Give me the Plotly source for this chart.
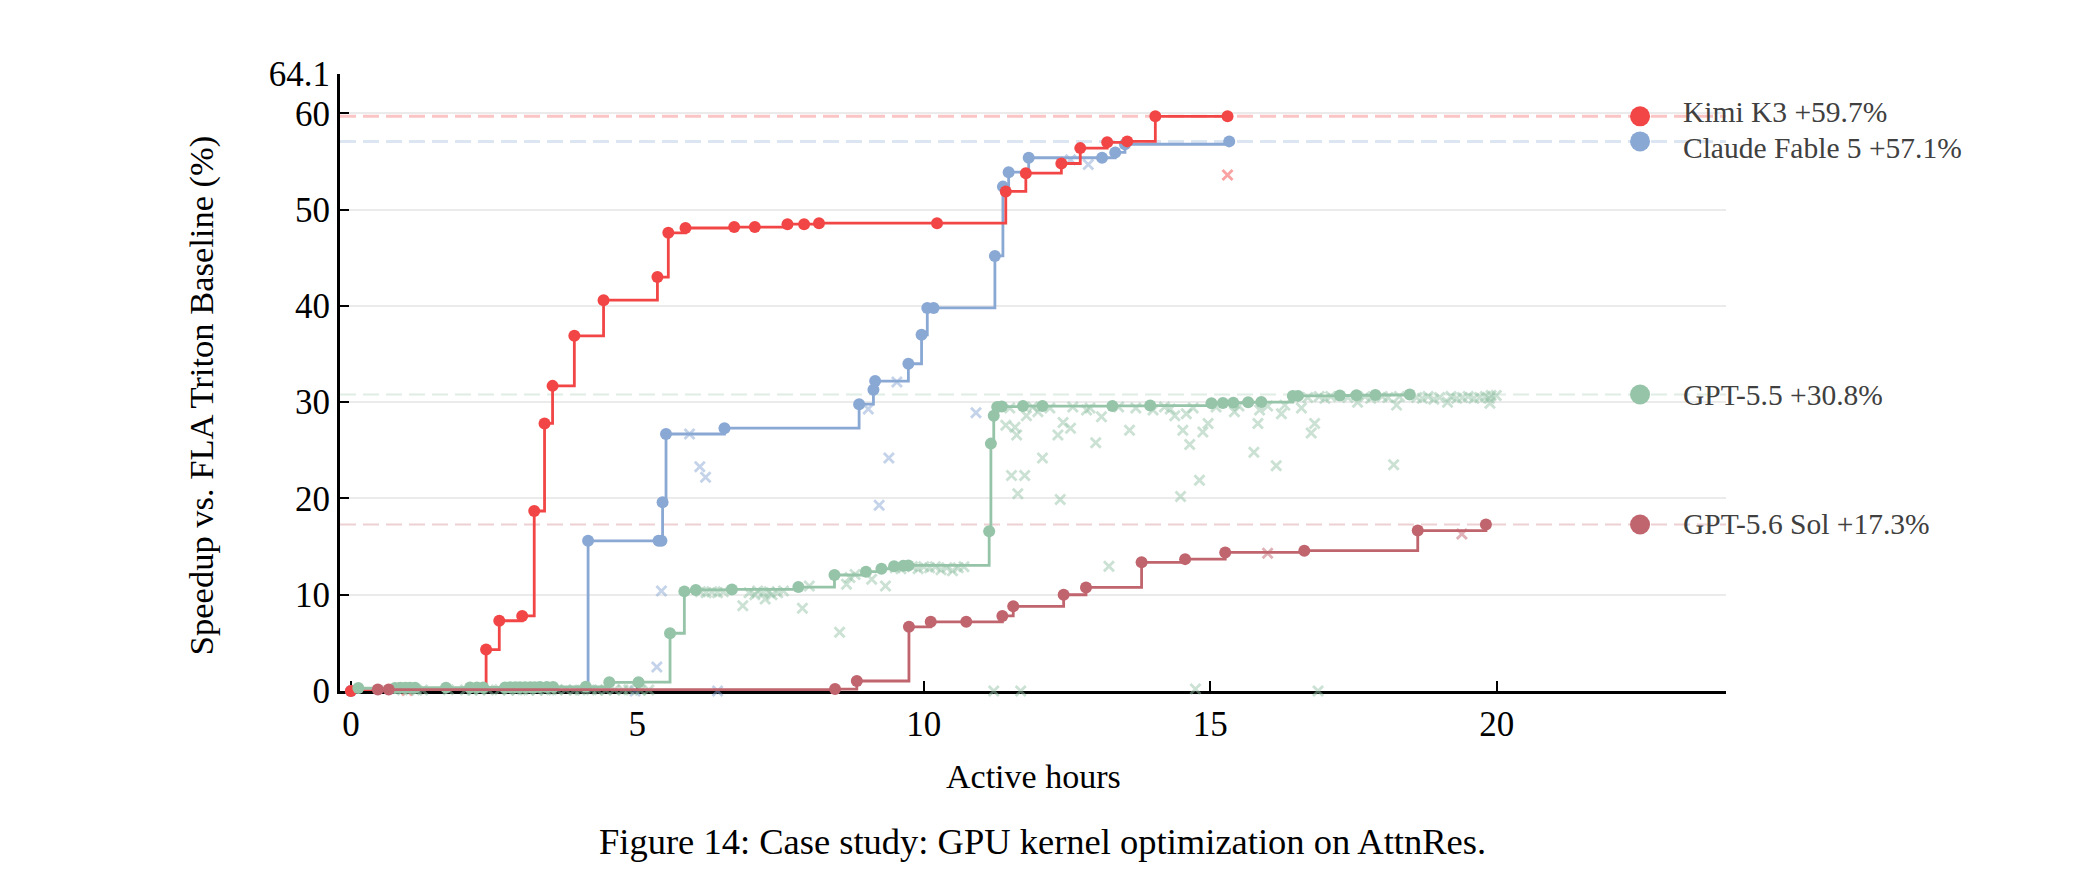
import plotly.graph_objects as go

# ---------------- data ----------------
models = ["Kimi K3", "Claude Fable 5", "GPT-5.5", "GPT-5.6 Sol"]
colors = ["#f24646", "#8aa8d4", "#96c4a8", "#c0646e"]
dash_colors = ["rgba(244,90,90,0.35)", "rgba(138,168,212,0.30)", "rgba(150,196,168,0.30)", "rgba(192,100,110,0.30)"]
final_values = [59.7, 57.1, 30.8, 17.3]

kimi_x = [0, 2.36, 2.59, 2.99, 3.20, 3.38, 3.52, 3.90, 4.41, 5.35, 5.54, 5.84, 6.69, 7.05, 7.62, 7.91, 8.17,
          10.23, 11.43, 11.78, 12.40, 12.73, 13.20, 13.55, 14.04, 15.30]
kimi_y = [0, 4.3, 7.3, 7.8, 18.7, 27.8, 31.7, 36.9, 40.6, 43.0, 47.6, 48.1, 48.2, 48.2, 48.5, 48.5, 48.6,
          48.6, 51.9, 53.8, 54.8, 56.4, 57.0, 57.1, 59.7, 59.7]
kimi_fail_x = [0.98, 15.30]
kimi_fail_y = [0.05, 53.6]

claude_x = [0, 4.14, 5.37, 5.42, 5.44, 5.50, 6.52, 8.87, 9.12, 9.15, 9.73, 9.96, 10.06, 10.17, 11.24, 11.38,
            11.48, 11.83, 13.11, 13.34, 13.51, 15.33]
claude_y = [0, 15.6, 15.6, 15.6, 19.6, 26.7, 27.3, 29.8, 31.3, 32.2, 34.0, 37.0, 39.8, 39.8, 45.2, 52.4,
            53.9, 55.4, 55.4, 55.95, 56.8, 57.1]
claude_fail_x = [4.96, 5.34, 5.42, 5.91, 6.09, 6.19, 6.40, 9.03, 9.22, 9.39, 9.53, 10.91, 12.56, 12.87]
claude_fail_y = [0.0, 2.5, 10.4, 26.7, 23.3, 22.2, 0.0, 29.3, 19.3, 24.2, 32.1, 28.9, 55.2, 54.7]

gpt55_x = [0.13, 0.77, 0.86, 0.95, 1.03, 1.12, 1.66, 2.08, 2.20, 2.31, 2.69, 2.78, 2.87, 2.95, 3.04, 3.13,
           3.21, 3.30, 3.42, 3.53, 4.10, 4.51, 5.02, 5.57, 5.82, 6.02, 6.65, 7.81, 8.44, 8.99, 9.26, 9.48,
           9.64, 9.73, 11.14, 11.17, 11.22, 11.28, 11.36, 11.73, 12.07, 13.29, 13.95, 15.02, 15.22, 15.40,
           15.66, 15.89, 16.44, 16.53, 17.26, 17.55, 17.88, 18.48]
gpt55_y = [0.30, 0.32, 0.33, 0.33, 0.34, 0.34, 0.35, 0.36, 0.36, 0.37, 0.37, 0.38, 0.38, 0.39, 0.39, 0.40,
           0.40, 0.41, 0.41, 0.42, 0.43, 0.90, 0.92, 6.0, 10.35, 10.5, 10.55, 10.8, 12.05, 12.4, 12.7, 12.95,
           13.0, 13.05, 16.6, 25.7, 28.6, 29.5, 29.55, 29.6, 29.6, 29.62, 29.65, 29.9, 29.92, 29.95,
           30.0, 30.02, 30.65, 30.66, 30.7, 30.72, 30.75, 30.8]
gpt55_fail_x = [0.90, 1.00, 1.15, 1.25, 1.70, 2.00, 2.12, 2.25, 2.40, 2.60, 2.75, 2.90, 3.00, 3.10, 3.25,
                3.40, 3.50, 3.60, 3.75, 3.90, 4.00, 4.20, 4.30, 4.45, 4.60, 4.75, 4.85, 5.05, 5.20,
                6.10, 6.20, 6.30, 6.40, 6.50, 6.95, 7.05, 7.10, 7.20, 7.30, 7.35, 7.45, 7.55, 6.84, 7.23,
                7.88, 8.00, 8.53, 8.65, 8.71, 8.80, 9.09, 9.33, 9.50, 9.60, 9.80, 9.90, 10.00, 10.10, 10.20,
                10.30, 10.40, 10.50, 10.60, 10.70,
                11.43, 11.53, 11.76, 11.64, 12.07, 12.38, 11.62, 12.34, 12.56, 13.00, 13.59, 11.79, 12.43,
                12.84, 13.10, 11.99, 11.59, 14.00, 14.38, 14.52, 14.64, 14.58, 14.87, 14.96, 14.81, 14.48,
                15.42, 15.76, 15.83, 15.86, 16.15, 16.24, 16.59, 16.82, 16.76, 13.23, 11.22, 11.69, 14.74,
                16.88, 18.20, 18.25, 17.57, 19.14, 19.87, 19.99, 19.88,
                11.50, 11.90, 12.20, 12.60, 12.90, 13.40, 13.70, 14.20, 14.30, 14.70, 15.10, 15.50, 16.00,
                16.30, 16.70, 16.90, 17.00, 17.10, 17.40, 17.70, 17.80, 18.00, 18.10, 18.30, 18.60, 18.70,
                18.80, 18.90, 19.00, 19.20, 19.30, 19.40, 19.50, 19.60, 19.70, 19.80, 19.90]
gpt55_fail_y = [0.10, 0.12, 0.08, 0.10, 0.12, 0.10, 0.08, 0.12, 0.10, 0.12, 0.08, 0.10, 0.12, 0.10, 0.08,
                0.10, 0.12, 0.10, 0.12, 0.08, 0.10, 0.12, 0.10, 0.08, 0.12, 0.10, 0.12, 0.08, 0.10,
                10.3, 10.2, 10.3, 10.2, 10.3, 10.2, 10.0, 10.4, 10.2, 10.3, 10.0, 10.2, 10.4, 8.85, 9.55,
                8.6, 10.9, 6.1, 11.1, 11.8, 12.1, 11.6, 10.9, 12.8, 12.7, 12.9, 12.7, 12.9, 12.8, 12.9,
                12.6, 12.8, 12.5, 12.8, 12.9,
                27.6, 22.4, 22.4, 20.5, 24.2, 19.9, 26.6, 26.6, 27.3, 25.8, 27.1, 28.6, 27.9,
                29.2, 28.5, 29.0, 27.4, 29.2, 28.6, 27.1, 25.6, 28.8, 26.9, 27.8, 21.9, 20.2,
                29.0, 24.8, 27.8, 29.2, 23.4, 28.8, 29.4, 27.8, 26.8, 12.95, 0.0, 0.0, 0.2,
                0.0, 23.5, 29.7, 30.0, 30.0, 30.4, 30.7, 29.9,
                29.4, 29.5, 29.4, 29.5, 29.4, 29.5, 29.4, 29.5, 29.3, 29.4, 29.5, 29.6, 29.6,
                29.7, 30.5, 30.6, 30.4, 30.6, 30.5, 30.6, 30.4, 30.6, 30.5, 30.6, 30.5, 30.4,
                30.6, 30.3, 30.5, 30.6, 30.4, 30.5, 30.6, 30.4, 30.5, 30.6, 30.7]

sol_x = [0.47, 0.66, 8.45, 8.83, 9.74, 10.12, 10.74, 11.37, 11.56, 12.44, 12.83, 13.80, 14.56, 15.26, 16.64,
         18.62, 19.81]
sol_y = [0.15, 0.15, 0.2, 1.04, 6.67, 7.19, 7.19, 7.8, 8.8, 10.0, 10.76, 13.37, 13.7, 14.4, 14.58, 16.67, 17.3]
sol_fail_x = [16.0, 19.39]
sol_fail_y = [14.3, 16.3]

label_texts = ["Kimi K3 +59.7%", "Claude Fable 5 +57.1%", "GPT-5.5 +30.8%", "GPT-5.6 Sol +17.3%"]
label_text_y = [60.2, 56.45, 30.8, 17.3]

y_ticks = [0, 10, 20, 30, 40, 50, 60, 64.1]
y_ticktext = ["0", "10", "20", "30", "40", "50", "60", "64.1"]
x_ticks = [0, 5, 10, 15, 20]

# ---------------- figure ----------------
FONT = "Liberation Serif"
fig = go.Figure()

series = {
    "Kimi K3": (kimi_x, kimi_y, kimi_fail_x, kimi_fail_y),
    "Claude Fable 5": (claude_x, claude_y, claude_fail_x, claude_fail_y),
    "GPT-5.5": (gpt55_x, gpt55_y, gpt55_fail_x, gpt55_fail_y),
    "GPT-5.6 Sol": (sol_x, sol_y, sol_fail_x, sol_fail_y),
}

def rgba(hexc, a):
    h = hexc.lstrip("#")
    r, g, b = int(h[0:2], 16), int(h[2:4], 16), int(h[4:6], 16)
    return f"rgba({r},{g},{b},{a})"

X_MIN, X_MAX = -0.19, 24.0

# dashed final-value lines
for i, m in enumerate(models):
    fig.add_trace(go.Scatter(
        x=[X_MIN, X_MAX], y=[final_values[i], final_values[i]], mode="lines",
        line=dict(color=dash_colors[i], width=3 if i < 2 else 2, dash="16px,7px"),
        hoverinfo="skip", showlegend=False))

# failed attempts (x markers)
for i, m in enumerate(models):
    _, _, fx, fy = series[m]
    fig.add_trace(go.Scatter(
        x=fx, y=fy, mode="markers", cliponaxis=False,
        marker=dict(symbol="x-thin", size=10, line=dict(color=rgba(colors[i], 0.5), width=2.8)),
        showlegend=False, hoverinfo="skip"))

# step lines with improvement dots
for i in [1, 0, 2, 3]:
    m = models[i]
    sx, sy, _, _ = series[m]
    fig.add_trace(go.Scatter(
        x=sx, y=sy, mode="lines+markers", line_shape="hv", cliponaxis=False,
        line=dict(color=colors[i], width=2.8),
        marker=dict(size=12, color=colors[i]),
        showlegend=False, hoverinfo="skip"))

# end labels
for i, m in enumerate(models):
    fig.add_trace(go.Scatter(
        x=[22.5], y=[final_values[i]], mode="markers", cliponaxis=False,
        marker=dict(size=20, color=colors[i]), showlegend=False, hoverinfo="skip"))
    fig.add_annotation(x=23.22, y=label_text_y[i], xref="x", yref="y", text=label_texts[i],
                       showarrow=False, xanchor="left", yanchor="middle",
                       font=dict(family=FONT, size=29.5, color="#404040"))

fig.add_annotation(x=-0.1003, y=0.4795, xref="paper", yref="paper",
                   text="Speedup vs. FLA Triton Baseline (%)", textangle=-90, showarrow=False,
                   xanchor="center", yanchor="middle", font=dict(family=FONT, size=34.5, color="black"))
fig.add_annotation(x=0.5, y=-0.138, xref="paper", yref="paper", text="Active hours", showarrow=False,
                   xanchor="center", yanchor="middle", font=dict(family=FONT, size=34, color="black"))
fig.add_annotation(x=0.5072, y=-0.2437, xref="paper", yref="paper",
                   text="Figure 14: Case study: GPU kernel optimization on AttnRes.", showarrow=False,
                   xanchor="center", yanchor="middle", font=dict(family=FONT, size=36.5, color="black"))

fig.update_layout(
    width=2080, height=890, autosize=False,
    margin=dict(l=340, r=354, t=74, b=199),
    paper_bgcolor="white", plot_bgcolor="white",
    font=dict(family=FONT, size=34, color="black"),
    showlegend=False,
    xaxis=dict(range=[X_MIN, X_MAX], tickvals=x_ticks, ticks="inside", ticklen=10, tickwidth=2,
               tickcolor="black", showline=True, linecolor="black", linewidth=3, showgrid=False,
               zeroline=False, layer="below traces", tickfont=dict(family=FONT, size=35, color="black")),
    yaxis=dict(range=[0, 64.1], tickvals=y_ticks, ticktext=y_ticktext, ticks="inside", ticklen=9,
               tickwidth=2, tickcolor="black", showline=True, linecolor="black", linewidth=3,
               showgrid=True, gridcolor="#ebebeb", gridwidth=1.5, zeroline=False, layer="below traces",
               tickfont=dict(family=FONT, size=35, color="black")),
)

fig.write_html("out.html")
